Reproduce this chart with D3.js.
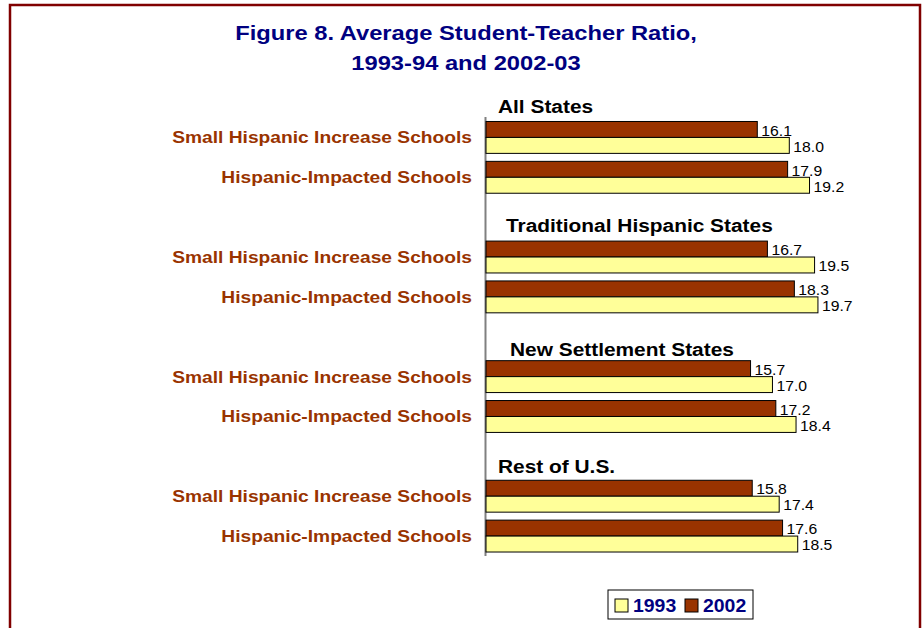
<!DOCTYPE html>
<html>
<head>
<meta charset="utf-8">
<script src="https://cdn.jsdelivr.net/npm/d3@7"></script>
<style>
  body { margin: 0; background: #fff; }
  text { font-family: "Liberation Sans", Arial, sans-serif; }
</style>
</head>
<body>
<div id="viz"></div>
<script>
const groups = ["All States", "Traditional Hispanic States", "New Settlement States", "Rest of U.S."];
const schoolTypes = ["Small Hispanic Increase Schools", "Hispanic-Impacted Schools"];
const years = ["2002", "1993"];
const values1993 = [18.0, 19.2, 19.5, 19.7, 17.0, 18.4, 17.4, 18.5];
const values2002 = [16.1, 17.9, 16.7, 18.3, 15.7, 17.2, 15.8, 17.6];

const colors = { "1993": "#FFFF99", "2002": "#993300" };

// rows: one slot per school type, blank slot between groups
const rows = [];
groups.forEach((g, gi) => {
  if (gi > 0) rows.push({ key: "gap" + gi, group: g, blank: true });
  schoolTypes.forEach((s, si) => {
    const i = gi * 2 + si;
    rows.push({ key: g + "|" + s, label: s, group: g, v1993: values1993[i], v2002: values2002[i] });
  });
});

const width = 922, height = 628;

const svg = d3.select("#viz").append("svg")
  .attr("width", width)
  .attr("height", height);

// the original fonts are wider than Liberation Sans, so text gets stretched horizontally
const stretch = (px, py, k) => `translate(${px},${py}) scale(${k},1)`;

// frame
svg.append("path")
  .attr("d", "M10,640 V5 H920 V640")
  .attr("fill", "none")
  .attr("stroke", "#800000")
  .attr("stroke-width", 2.5);

// title
const titleLines = ["Figure 8. Average Student-Teacher Ratio,", "1993-94 and 2002-03"];
svg.selectAll("text.title")
  .data(titleLines)
  .enter()
  .append("text")
  .attr("class", "title")
  .attr("transform", (d, i) => stretch(466, 40 + i * 30, 1.13))
  .attr("text-anchor", "middle")
  .attr("fill", "#000080")
  .attr("font-weight", "bold")
  .attr("font-size", 21)
  .text(d => d);

const x = d3.scaleLinear().domain([0, 20]).range([486, 823]);
const y = d3.scaleBand().domain(rows.map(r => r.key)).range([117.5, 556]);
const yInner = d3.scaleBand().domain(years).range([0, y.bandwidth()]).paddingOuter(0.25);

// axis line
svg.append("line")
  .attr("x1", 485.5).attr("x2", 485.5)
  .attr("y1", 117).attr("y2", 556)
  .attr("stroke", "#808080")
  .attr("stroke-width", 2);

const dataRows = rows.filter(r => !r.blank);

const rowG = svg.selectAll("g.row")
  .data(dataRows)
  .enter()
  .append("g")
  .attr("class", "row")
  .attr("transform", d => `translate(0,${y(d.key)})`);

rowG.selectAll("rect")
  .data(d => years.map(yr => ({ year: yr, value: d["v" + yr] })))
  .enter()
  .append("rect")
  .attr("x", x(0))
  .attr("y", d => yInner(d.year))
  .attr("width", d => x(d.value) - x(0))
  .attr("height", yInner.bandwidth())
  .attr("fill", d => colors[d.year])
  .attr("stroke", "#000")
  .attr("stroke-width", 1);

rowG.selectAll("text.val")
  .data(d => years.map(yr => ({ year: yr, value: d["v" + yr] })))
  .enter()
  .append("text")
  .attr("class", "val")
  .attr("transform", d => stretch(x(d.value) + 4, yInner(d.year) + yInner.bandwidth() / 2 + 1, 1.05))
  .attr("dy", "0.35em")
  .attr("font-size", 15)
  .attr("fill", "#000")
  .text(d => d.value.toFixed(1));

// category labels
rowG.append("text")
  .attr("transform", stretch(472, y.bandwidth() / 2, 1.13))
  .attr("dy", "0.35em")
  .attr("text-anchor", "end")
  .attr("font-size", 17)
  .attr("font-weight", "bold")
  .attr("fill", "#993300")
  .text(d => d.label);

// group headers, placed just above the first row of each group
const headerX = [498, 506, 510, 498];
const headerDy = [-5, -5, -1, -3];
svg.selectAll("text.header")
  .data(groups)
  .enter()
  .append("text")
  .attr("class", "header")
  .attr("transform", (d, i) => stretch(headerX[i], y(d + "|" + schoolTypes[0]) + headerDy[i], 1.16))
  .attr("font-size", 18)
  .attr("font-weight", "bold")
  .attr("fill", "#000")
  .text(d => d);

// legend
const legend = svg.append("g").attr("transform", "translate(608,590)");
legend.append("rect")
  .attr("width", 145).attr("height", 29)
  .attr("fill", "#fff").attr("stroke", "#000").attr("stroke-width", 1);
const legendItems = ["1993", "2002"];
const li = legend.selectAll("g.item")
  .data(legendItems)
  .enter()
  .append("g")
  .attr("class", "item")
  .attr("transform", (d, i) => `translate(${7 + i * 70},0)`);
li.append("rect")
  .attr("y", 9).attr("width", 13).attr("height", 13)
  .attr("fill", d => colors[d]).attr("stroke", "#000");
li.append("text")
  .attr("transform", stretch(18, 15.5, 1.08))
  .attr("dy", "0.35em")
  .attr("font-size", 18).attr("font-weight", "bold").attr("fill", "#000080")
  .text(d => d);
</script>
</body>
</html>
